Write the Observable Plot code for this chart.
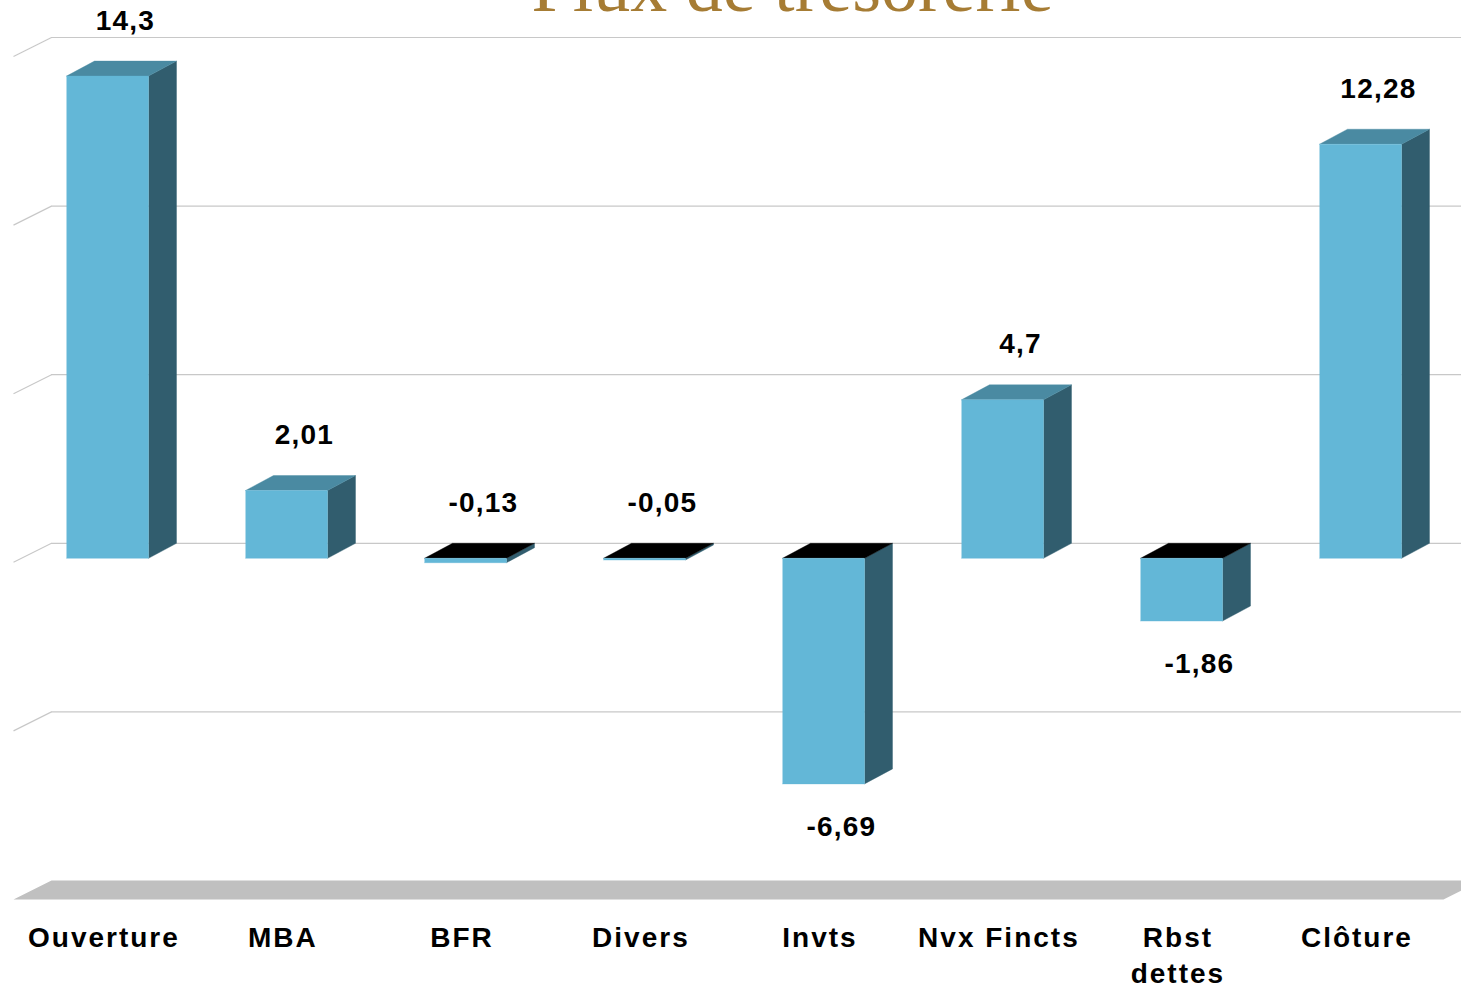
<!DOCTYPE html>
<html>
<head>
<meta charset="utf-8">
<script src="https://cdn.jsdelivr.net/npm/d3@7"></script>
<script src="https://cdn.jsdelivr.net/npm/@observablehq/plot@0.6"></script>
<style>
  html, body { margin: 0; padding: 0; background: #fff; overflow: hidden; }
  #chart svg { display: block; }
</style>
</head>
<body>
<div id="chart"></div>
<script>
// ---- data ----
const title = "Flux de trésorerie";
const categories = ["Ouverture", "MBA", "BFR", "Divers", "Invts", "Nvx Fincts", "Rbst\ndettes", "Clôture"];
const values = [14.3, 2.01, -0.13, -0.05, -6.69, 4.7, -1.86, 12.28];
const gridTicks = [-5, 0, 5, 10, 15];
const floorValue = -10;

// ---- 3D geometry (in data units) ----
const barL = 0.271, barR = 0.729;      // bar front face within category slot
const depthX = 0.1564, depthY = 0.445; // bar depth offset
const wallX0 = -0.0251, wallX1 = 0.1872, wallDY = 0.5634; // wall/floor depth
const floorRight = 8.176;

const colors = { front: "#63B7D7", side: "#315D6E", top: "#4A8AA2", topNeg: "#000000" };

const faces = [];
values.forEach((v, i) => {
  const top = Math.max(v, 0), bot = Math.min(v, 0);
  const xl = i + barL, xr = i + barR;
  const add = (id, fill, pts) => pts.forEach(([x, y]) => faces.push({ id, fill, x, y }));
  add(`s${i}`, colors.side, [[xr, top - depthY], [xr + depthX, top], [xr + depthX, bot], [xr, bot - depthY]]);
  add(`t${i}`, v < 0 ? colors.topNeg : colors.top, [[xl, top - depthY], [xl + depthX, top], [xr + depthX, top], [xr, top - depthY]]);
  add(`f${i}`, colors.front, [[xl, top - depthY], [xr, top - depthY], [xr, bot - depthY], [xl, bot - depthY]]);
});

const floorPts = [
  { x: wallX0, y: floorValue - wallDY }, { x: wallX1, y: floorValue },
  { x: floorRight, y: floorValue }, { x: floorRight - (wallX1 - wallX0), y: floorValue - wallDY }
];

const labels = values.map((v, i) => ({
  x: i + 0.6,
  y: v > -1 ? Math.max(v, 0) + 1.2 : v - depthY - 1.28,
  text: String(v).replace(".", ",")
}));

const cats = categories.map((c, i) => ({ x: i + 0.48, text: c }));

const font = "'Liberation Sans', Arial, sans-serif";

const chart = Plot.plot({
  width: 1461,
  height: 989,
  margin: 0,
  x: { domain: [0, 8], range: [17.5, 1449.5], axis: null },
  y: { domain: [-10, 15], range: [880, 37], axis: null },
  color: { type: "identity" },
  style: { background: "#fff", overflow: "hidden" },
  marks: [
    // back wall gridlines
    Plot.ruleY(gridTicks, { y: d => d, x1: wallX1, x2: 8.5, stroke: "#c8c8c8", strokeWidth: 1.2 }),
    // side wall diagonals
    Plot.link(gridTicks, { x1: wallX0, y1: d => d - wallDY, x2: wallX1, y2: d => d, stroke: "#c8c8c8", strokeWidth: 1.2 }),
    // floor
    Plot.line(floorPts, { x: "x", y: "y", fill: "#c0c0c0", stroke: "none" }),
    // bars (side, top, front faces)
    Plot.line(faces, { x: "x", y: "y", z: "id", fill: "fill", stroke: "fill", strokeWidth: 0.4 }),
    // value labels
    Plot.text(labels, { x: "x", y: "y", text: "text", fontFamily: font, fontSize: 28, fontWeight: "bold", fill: "#000", lineAnchor: "middle", className: "vlab" }),
    // category labels
    Plot.text(cats, { x: "x", y: -11.2, text: "text", fontFamily: font, fontSize: 28, fontWeight: "bold", fill: "#000", lineAnchor: "top", lineHeight: 1.3, className: "clab" }),
    // title (cropped at the top like the original)
    Plot.text([title], { x: 4.327, y: 16.5, text: d => d, fontFamily: "'Liberation Serif', 'Times New Roman', serif", fontSize: 74, fill: "#A67C34", lineAnchor: "middle" })
  ]
});

// letter spacing for labels
chart.querySelectorAll(".vlab").forEach(g => g.style.letterSpacing = "1.2px");
chart.querySelectorAll(".clab").forEach(g => g.style.letterSpacing = "2px");

document.getElementById("chart").appendChild(chart);
</script>
</body>
</html>
